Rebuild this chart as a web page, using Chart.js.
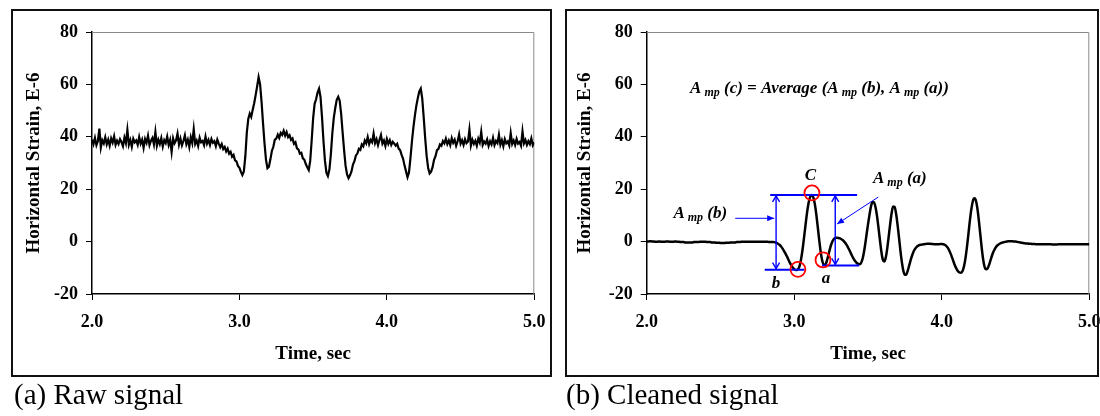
<!DOCTYPE html>
<html><head><meta charset="utf-8">
<script src="https://cdn.jsdelivr.net/npm/chart.js@4.4.1/dist/chart.umd.min.js"></script>
<style>
html,body{margin:0;padding:0;background:#fff;width:1100px;height:416px;overflow:hidden;position:relative;font-family:"Liberation Serif",serif;}
canvas{position:absolute;top:0;}
#c1{left:0;}
#c2{left:558px;}
.panel{position:absolute;border:2px solid #111;box-sizing:border-box;pointer-events:none;}
#p1{left:11px;top:9px;width:541px;height:368px;}
#p2{left:565px;top:9px;width:534px;height:368px;}
.cap{position:absolute;font-size:29px;line-height:29px;white-space:nowrap;color:#000;font-family:"Liberation Serif",serif;}
#cap1{left:14px;top:380px;}
#cap2{left:566px;top:380px;}
</style></head>
<body>
<canvas id="c1" width="558" height="380"></canvas>
<canvas id="c2" width="560" height="380"></canvas>
<div class="panel" id="p1"></div>
<div class="panel" id="p2"></div>
<div class="cap" id="cap1">(a) Raw signal</div>
<div class="cap" id="cap2">(b) Cleaned signal</div>
<script>
// ---- data ----
const timeStart = 2.0;   // sec, first sample
const timeStep = 0.01;   // sec, sample interval
const xTickValues = [2, 3, 4, 5];
const yTickValues = [-20, 0, 20, 40, 60, 80];
const xTitle = 'Time, sec';
const yTitle = 'Horizontal Strain, E-6';

// raw signal (E-6), one value every 0.01 s from 2.00 to 5.00
const rawStrain = [
  38.9, 37.2, 39.6, 36.8, 38.4, 43.1, 35.9, 38.7, 37.5, 39.8,
  37.1, 38.9, 36.6, 39.4, 37.8, 40.2, 36.9, 38.5, 37.3, 39.1,
  38.0, 36.4, 39.7, 37.6, 42.6, 37.0, 38.8, 36.2, 39.3, 37.9,
  38.6, 36.9, 39.9, 37.4, 38.9, 35.8, 39.2, 37.7, 40.4, 36.8,
  38.5, 39.6, 37.1, 41.8, 36.6, 38.9, 37.2, 39.5, 36.3, 38.7,
  37.6, 40.1, 36.9, 38.8, 34.2, 39.4, 37.5, 38.6, 41.2, 37.0,
  39.3, 36.7, 38.4, 40.6, 37.2, 38.9, 36.1, 39.8, 37.6, 42.9,
  37.3, 38.6, 36.5, 39.7, 37.9, 38.4, 36.8, 40.1, 37.4, 38.8,
  36.9, 39.2, 37.7, 38.3, 36.4, 38.9, 37.4, 36.0, 37.2, 35.3,
  36.1, 34.4, 35.5, 33.6, 34.3, 32.4, 33.1, 31.0, 30.6, 28.9,
  28.2, 26.6, 25.4, 26.8, 32.5, 41.6, 46.8, 48.9, 47.6, 50.3,
  52.8, 55.9, 59.2, 62.8, 60.1, 53.4, 45.2, 37.6, 31.3, 28.0,
  28.6, 31.4, 34.6, 36.2, 38.9, 39.3, 40.8, 39.6, 41.5, 40.7,
  42.3, 40.4, 41.8, 39.9, 40.6, 38.8, 39.4, 37.3, 37.9, 35.6,
  35.2, 33.6, 33.9, 31.8, 31.3, 29.6, 28.4, 27.3, 30.8, 38.6,
  47.1, 52.6, 54.3, 56.9, 58.4, 55.2, 47.6, 38.4, 30.9, 26.3,
  25.0, 27.4, 33.2, 41.3, 47.2, 51.0, 54.1, 55.3, 53.8, 48.7,
  41.6, 34.8, 28.9, 25.6, 24.2, 25.3, 26.8, 29.4, 30.7, 32.9,
  33.6, 35.4, 35.0, 37.1, 36.4, 38.6, 37.5, 39.9, 37.2, 38.8,
  37.9, 41.2, 37.6, 39.1, 36.8, 38.9, 40.7, 37.4, 38.6, 36.5,
  39.2, 37.3, 38.7, 36.9, 38.1, 37.4, 36.6, 37.3, 35.5, 34.9,
  33.1, 31.6, 29.0, 26.8, 24.6, 26.4, 31.9, 38.2, 43.6, 48.1,
  51.9, 54.8, 57.3, 58.4, 54.6, 47.3, 39.4, 32.6, 28.1, 26.0,
  26.7, 28.4, 31.2, 32.6, 34.9, 35.4, 37.1, 36.6, 38.4, 37.5,
  39.3, 37.2, 38.6, 36.8, 39.5, 37.7, 38.9, 36.6, 38.3, 40.9,
  37.4, 38.7, 36.9, 39.1, 37.6, 38.2, 42.8, 36.7, 38.9, 37.3,
  38.5, 36.6, 39.3, 37.8, 41.9, 36.9, 38.2, 37.4, 39.0, 36.5,
  38.3, 37.1, 39.6, 36.8, 38.4, 37.6, 40.8, 37.0, 38.7, 36.4,
  39.1, 37.5, 38.2, 36.7, 41.4, 37.3, 38.6, 36.9, 39.2, 37.4,
  38.0, 36.6, 42.1, 37.5, 38.8, 36.9, 38.3, 37.2, 39.4, 36.8,
  37.9
];

// cleaned signal (E-6), one value every 0.01 s from 2.00 to 5.00
const cleanStrain = [
  0.0, 0.0, 0.1, 0.1, 0.0, 0.0, -0.1, -0.1, 0.0, 0.0,
  -0.1, -0.1, -0.1, 0.0, 0.0, 0.0, -0.1, -0.1, -0.1, 0.0,
  0.0, -0.1, -0.1, -0.2, -0.2, -0.2, -0.3, -0.3, -0.3, -0.3,
  -0.3, -0.3, -0.2, -0.2, -0.2, -0.2, -0.1, -0.1, -0.1, -0.1,
  -0.1, -0.2, -0.2, -0.2, -0.3, -0.3, -0.3, -0.4, -0.4, -0.4,
  -0.5, -0.5, -0.5, -0.5, -0.4, -0.4, -0.4, -0.3, -0.3, -0.3,
  -0.3, -0.2, -0.2, -0.2, -0.1, -0.1, -0.1, -0.1, -0.1, -0.1,
  -0.1, -0.1, -0.1, -0.1, -0.1, -0.1, -0.1, -0.1, -0.1, -0.1,
  -0.1, -0.1, -0.1, -0.2, -0.2, -0.2, -0.2, -0.3, -0.5, -0.8,
  -1.2, -1.8, -2.6, -3.5, -4.5, -5.6, -6.8, -8.0, -9.0, -9.9,
  -10.5, -10.8, -10.8, -10.2, -8.5, -5.5, -1.5, 3.2, 8.0, 12.3,
  15.5, 17.3, 17.8, 16.8, 14.2, 10.2, 5.3, 0.3, -4.2, -7.3,
  -8.8, -8.9, -7.6, -5.5, -3.2, -1.2, 0.2, 1.0, 1.4, 1.5,
  1.4, 1.2, 0.9, 0.5, -0.1, -0.8, -1.7, -2.8, -4.0, -5.2,
  -6.3, -7.2, -7.9, -8.4, -8.6, -8.4, -7.2, -4.8, -1.4, 2.6,
  6.6, 10.2, 13.4, 15.0, 15.0, 13.4, 10.2, 5.8, 1.0, -3.6,
  -6.8, -7.6, -6.2, -2.8, 1.8, 6.6, 10.8, 13.4, 13.3, 10.8,
  6.6, 1.6, -3.6, -8.0, -11.2, -12.7, -12.5, -11.0, -9.0, -6.9,
  -5.1, -3.7, -2.7, -2.0, -1.6, -1.3, -1.2, -1.1, -1.0, -0.9,
  -0.8, -0.8, -0.8, -0.9, -0.9, -1.0, -1.0, -1.0, -1.0, -0.9,
  -0.9, -1.0, -1.2, -1.6, -2.3, -3.3, -4.6, -6.1, -7.7, -9.2,
  -10.4, -11.3, -11.8, -11.9, -11.3, -9.6, -6.6, -2.4, 2.6, 7.8,
  12.2, 15.3, 16.5, 15.9, 13.2, 8.8, 3.4, -2.0, -6.6, -9.6,
  -10.6, -10.3, -9.0, -7.2, -5.4, -3.9, -2.8, -1.9, -1.3, -0.9,
  -0.6, -0.4, -0.2, -0.1, 0.0, 0.1, 0.1, 0.1, 0.1, 0.0,
  0.0, -0.1, -0.2, -0.3, -0.4, -0.5, -0.6, -0.7, -0.7, -0.8,
  -0.8, -0.9, -0.9, -0.9, -1.0, -1.0, -1.0, -1.0, -1.0, -1.0,
  -1.0, -1.0, -1.0, -1.0, -1.0, -1.1, -1.1, -1.1, -1.1, -1.0,
  -1.0, -1.0, -1.0, -1.0, -1.0, -1.0, -1.0, -1.0, -1.0, -1.0,
  -1.0, -1.0, -1.0, -1.0, -1.0, -1.0, -1.0, -1.0, -1.0, -1.0,
  -1.0
];

// annotation geometry of panel (b), in data units (time s, strain E-6)
const blueRules = [
  {t1: 2.837, t2: 3.426, v: 17.8},
  {t1: 2.800, t2: 3.070, v: -10.7},
  {t1: 3.188, t2: 3.440, v: -9.1}
];
const doubleArrows = [
  {t: 2.877, v1: 17.8, v2: -10.7},
  {t: 3.278, v1: 17.8, v2: -9.1}
];
const leaders = [
  {t1: 2.600, v1: 8.9, t2: 2.864, v2: 8.9},
  {t1: 3.570, v1: 17.0, t2: 3.290, v2: 6.7}
];
const redCircles = [
  {t: 3.120, v: 18.6},
  {t: 3.025, v: -10.6},
  {t: 3.195, v: -7.0}
];
const notes = [
  {t: 2.294, v: 56.9, align: 'left', segs: [['A', 0], [' mp', 1], [' (c) = Average (A', 0], [' mp', 1], [' (b), A', 0], [' mp', 1], [' (a))', 0]]},
  {t: 2.181, v: 8.9, align: 'left', segs: [['A', 0], [' mp', 1], [' (b)', 0]]},
  {t: 3.534, v: 22.25, align: 'left', segs: [['A', 0], [' mp', 1], [' (a)', 0]]},
  {t: 3.109, v: 23.5, align: 'center', segs: [['C', 0]]},
  {t: 2.876, v: -17.8, align: 'center', segs: [['b', 0]]},
  {t: 3.215, v: -15.9, align: 'center', segs: [['a', 0]]}
];

// ---- helpers ----
const serif = '"Liberation Serif", "Times New Roman", serif';
function series(vals) {
  return vals.map((v, i) => ({x: +(timeStart + i * timeStep).toFixed(2), y: v}));
}

const framePlugin = {
  id: 'frame',
  beforeDatasetsDraw(chart) {
    const {ctx, chartArea: a} = chart;
    ctx.save();
    ctx.strokeStyle = '#8a8a8a';
    ctx.lineWidth = 1;
    ctx.beginPath();
    ctx.moveTo(a.left, a.top + 0.5);
    ctx.lineTo(a.right - 0.5, a.top + 0.5);
    ctx.lineTo(a.right - 0.5, a.bottom);
    ctx.stroke();
    ctx.restore();
  }
};

function drawRich(ctx, x, y, segs, align) {
  const mainF = 'italic bold 17px ' + serif;
  const subF = 'italic bold 12px ' + serif;
  let w = 0;
  for (const s of segs) { ctx.font = s[1] ? subF : mainF; w += ctx.measureText(s[0]).width; }
  let cx = align === 'center' ? x - w / 2 : x;
  ctx.textAlign = 'left';
  ctx.textBaseline = 'alphabetic';
  for (const s of segs) {
    ctx.font = s[1] ? subF : mainF;
    ctx.fillText(s[0], cx, s[1] ? y + 3 : y);
    cx += ctx.measureText(s[0]).width;
  }
}

const annotationPlugin = {
  id: 'amp',
  afterDatasetsDraw(chart) {
    const {ctx} = chart;
    const xs = chart.scales.x, ys = chart.scales.y;
    const X = t => xs.getPixelForValue(t), Y = v => ys.getPixelForValue(v);
    ctx.save();
    ctx.strokeStyle = '#0000ff';
    ctx.fillStyle = '#0000ff';
    ctx.lineWidth = 2;
    for (const r of blueRules) {
      ctx.beginPath(); ctx.moveTo(X(r.t1), Y(r.v)); ctx.lineTo(X(r.t2), Y(r.v)); ctx.stroke();
    }
    ctx.lineWidth = 1.4;
    for (const d of doubleArrows) {
      const x = X(d.t), y1 = Y(d.v1), y2 = Y(d.v2);
      ctx.beginPath(); ctx.moveTo(x, y1 + 1); ctx.lineTo(x, y2 - 1); ctx.stroke();
      ctx.beginPath();
      ctx.moveTo(x - 3.5, y1 + 7); ctx.lineTo(x, y1 + 1); ctx.lineTo(x + 3.5, y1 + 7);
      ctx.moveTo(x - 3.5, y2 - 7); ctx.lineTo(x, y2 - 1); ctx.lineTo(x + 3.5, y2 - 7);
      ctx.stroke();
    }
    ctx.lineWidth = 1;
    for (const l of leaders) {
      const x1 = X(l.t1), y1 = Y(l.v1), x2 = X(l.t2), y2 = Y(l.v2);
      const ang = Math.atan2(y2 - y1, x2 - x1);
      ctx.beginPath(); ctx.moveTo(x1, y1); ctx.lineTo(x2, y2); ctx.stroke();
      ctx.beginPath();
      ctx.moveTo(x2, y2);
      ctx.lineTo(x2 - 7 * Math.cos(ang) + 3 * Math.sin(ang), y2 - 7 * Math.sin(ang) - 3 * Math.cos(ang));
      ctx.lineTo(x2 - 7 * Math.cos(ang) - 3 * Math.sin(ang), y2 - 7 * Math.sin(ang) + 3 * Math.cos(ang));
      ctx.closePath(); ctx.fill();
    }
    ctx.strokeStyle = '#ff0000';
    ctx.lineWidth = 1.8;
    for (const c of redCircles) {
      ctx.beginPath(); ctx.arc(X(c.t), Y(c.v), 7.5, 0, Math.PI * 2); ctx.stroke();
    }
    ctx.fillStyle = '#000';
    for (const n of notes) drawRich(ctx, X(n.t), Y(n.v), n.segs, n.align);
    ctx.restore();
  }
};

function makeChart(id, vals, lineWidth, yLeft, yWidth, padRight, plugins) {
  return new Chart(document.getElementById(id), {
    type: 'line',
    data: {datasets: [{
      data: series(vals),
      borderColor: '#000',
      borderWidth: lineWidth,
      pointRadius: 0,
      fill: false,
      tension: 0,
      cubicInterpolationMode: lineWidth > 2.4 ? 'monotone' : 'default'
    }]},
    options: {
      responsive: false,
      animation: false,
      devicePixelRatio: 1,
      layout: {padding: {left: yLeft, top: 32, right: padRight, bottom: 14.6}},
      plugins: {legend: {display: false}, tooltip: {enabled: false}},
      scales: {
        x: {
          type: 'linear', min: 2, max: 5,
          afterBuildTicks: s => { s.ticks = xTickValues.map(v => ({value: v})); },
          afterFit: s => { s.height = 71.4; },
          ticks: {callback: v => Number(v).toFixed(1), color: '#000', padding: 12,
                  font: {family: serif, size: 18, weight: 'bold'}, maxRotation: 0, autoSkip: false},
          grid: {drawOnChartArea: false, drawTicks: true, tickLength: 6, color: '#000', lineWidth: 1},
          border: {display: true, color: '#000', width: 1.5},
          title: {display: true, text: xTitle, color: '#000', padding: {top: 0, bottom: 0},
                  font: {family: serif, size: 19, weight: 'bold'}}
        },
        y: {
          type: 'linear', min: -20, max: 80,
          afterBuildTicks: s => { s.ticks = yTickValues.map(v => ({value: v})); },
          afterFit: s => { s.width = yWidth; },
          ticks: {color: '#000', padding: 8, font: {family: serif, size: 18, weight: 'bold'}},
          grid: {drawOnChartArea: false, drawTicks: true, tickLength: 6, color: '#000', lineWidth: 1},
          border: {display: true, color: '#000', width: 1.5},
          title: {display: true, text: yTitle, color: '#000', padding: {top: 0, bottom: 0},
                  font: {family: serif, size: 19, weight: 'bold'}}
        }
      }
    },
    plugins: plugins
  });
}

makeChart('c1', rawStrain, 2.2, 22.6, 69.4, 23.7, [framePlugin]);
makeChart('c2', cleanStrain, 2.5, 15.6, 73.1, 28.7, [framePlugin, annotationPlugin]);
</script>
</body></html>
